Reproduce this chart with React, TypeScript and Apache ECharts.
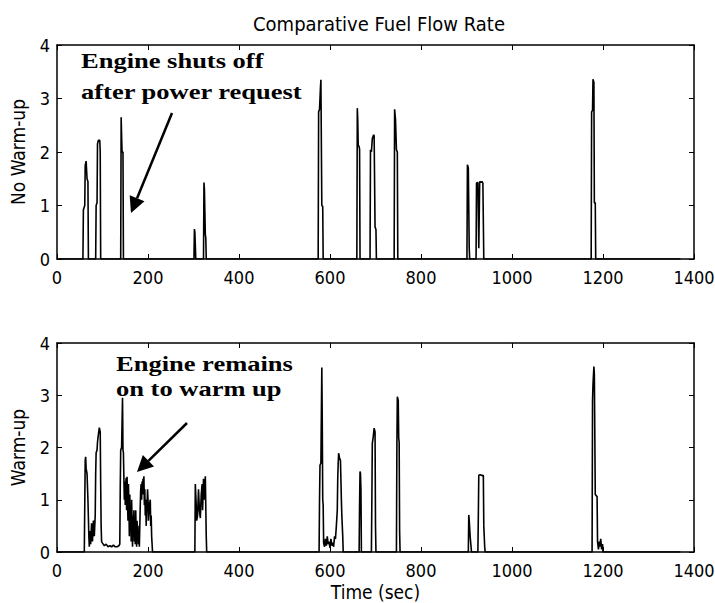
import React, { useEffect, useRef } from "react";
import * as echarts from "echarts";

// ---- data ----
const chartTitle = "Comparative Fuel Flow Rate";
const topAxisName = "No Warm-up";
const bottomAxisName = "Warm-up";
const timeAxisName = "Time (sec)";
const timeMin = 0;
const timeMax = 1400;
const timeStep = 200;
const flowMin = 0;
const flowMax = 4;
const flowStep = 1;

const noWarmupTime = [
  0, 57, 58, 61, 62, 64, 66, 68, 69,
  85, 86, 88, 89, 91, 94, 95, 96,
  140, 141, 142, 143, 145, 146,
  301, 302, 303, 304, 305,
  322, 323, 324, 326, 327, 328,
  574, 575, 577, 579, 580, 582, 584, 585,
  659, 660, 661, 662, 664, 665, 666,
  688, 689, 691, 693, 696, 697, 699, 701, 702,
  741, 742, 744, 746, 748, 749,
  901, 902, 904, 906, 907,
  921, 922, 925, 927, 929, 932, 934, 936, 938,
  1174, 1175, 1177, 1178, 1180, 1181, 1183, 1184,
  1370,
];
const noWarmupFlow = [
  0, 0, 0.92, 1.0, 1.75, 1.83, 1.5, 1.45, 0,
  0, 1.0, 1.05, 2.15, 2.22, 2.22, 2.0, 0,
  0, 2.65, 2.3, 2.0, 2.0, 0,
  0, 0.56, 0.5, 0.25, 0,
  0, 1.43, 1.3, 0.45, 0.4, 0,
  0, 2.75, 2.8, 3.2, 3.35, 1.0, 0.98, 0,
  0, 2.82, 2.6, 2.13, 2.1, 2.05, 0,
  0, 2.04, 2.0, 2.25, 2.32, 2.3, 0.6, 0.55, 0,
  0, 2.8, 2.6, 2.04, 2.0, 0,
  0, 1.76, 1.7, 0.2, 0,
  0, 1.42, 1.43, 0.2, 1.45, 1.43, 1.45, 1.42, 0,
  0, 2.75, 2.78, 3.36, 3.3, 1.05, 1.05, 0,
  0,
];

const warmupTime = [
  0, 60, 61, 62, 63, 64, 66, 68, 70, 71, 73, 74, 76, 78, 80, 82, 84, 85, 86, 88, 89, 91, 93, 95, 96, 97, 98,
  100, 104, 108, 112, 116, 120, 124, 128, 132, 136, 138, 139, 140, 142, 144, 145, 146, 147, 148, 149, 150,
  151, 152, 153, 154, 155, 156, 157, 158, 159, 160, 161, 162, 163, 164, 165, 166, 167, 168, 169, 170, 171,
  172, 173, 174, 175, 176, 177, 178, 179, 180, 181, 183, 184, 185, 186, 187, 188, 189, 190, 191, 192, 193,
  194, 195, 196, 197, 198, 199, 200, 201, 203, 205, 206, 207, 208, 210,
  303, 304, 306, 307, 309, 311, 313, 315, 317, 319, 320, 322, 324, 326, 328, 329,
  576, 577, 578, 580, 582, 583, 584, 585, 586, 588, 590, 592, 594, 596, 598, 600, 602, 604, 606, 608, 610,
  612, 614, 616, 617, 618, 619, 621, 623, 625, 626, 628, 629,
  664, 665, 666, 667, 668, 669,
  691, 692, 693, 695, 697, 699, 700, 701,
  746, 747, 748, 750, 751, 752, 753, 754,
  904, 905, 906, 908, 910, 911,
  925, 926, 927, 930, 933, 935, 937, 938, 940, 941,
  1176, 1177, 1178, 1180, 1181, 1183, 1187, 1188, 1190, 1192, 1193, 1195, 1197, 1199, 1200,
  1370,
];
const warmupFlow = [
  0, 0, 0.9, 1.75, 1.82, 1.6, 1.5, 1.0, 0.3, 0.1, 0.4, 0.15, 0.55, 0.2, 0.6, 0.3, 0.7, 1.5, 1.9, 1.95, 2.1, 2.25, 2.38, 2.3, 1.3, 0.5, 0.2,
  0.17, 0.12, 0.15, 0.1, 0.12, 0.1, 0.13, 0.1, 0.1, 0.12, 0.15, 1.2, 1.95, 2.0, 2.95, 1.95, 1.9, 1.4, 1.0, 1.35, 0.9,
  1.3, 1.42, 0.8, 1.44, 1.0, 0.6, 1.3, 0.9, 0.3, 1.1, 0.5, 0.9, 0.2, 1.0, 0.6, 0.1, 0.7, 0.3, 0.8, 0.2, 0.5,
  0.15, 0.8, 0.4, 0.1, 0.6, 0.2, 0.5, 0.15, 0.3, 0.1, 0.9, 1.2, 1.3, 1.0, 1.35, 1.1, 1.4, 1.3, 1.45, 0.9, 1.2,
  0.7, 1.0, 0.5, 0.8, 0.9, 1.2, 1.0, 0.6, 0.9, 1.0, 0.5, 0.7, 0.3, 0,
  0, 1.3, 0.9, 0.6, 0.7, 1.2, 0.8, 0.65, 1.1, 1.3, 0.8, 1.4, 1.0, 1.45, 0.3, 0,
  0, 1.0, 1.66, 1.7, 3.53, 2.5, 1.0, 0.9, 0.17, 0.1, 0.25, 0.12, 0.3, 0.15, 0.2, 0.08, 0.25, 0.12, 0.18, 0.1, 0.3,
  0.25, 0.5, 0.8, 1.4, 1.7, 1.89, 1.8, 1.75, 1.0, 0.7, 0.3, 0,
  0, 0.9, 1.54, 1.5, 1.2, 0,
  0, 1.0, 2.08, 2.2, 2.37, 2.3, 0.5, 0,
  0, 2.0, 2.97, 2.9, 2.18, 2.1, 0.4, 0,
  0, 0.71, 0.6, 0.3, 0.1, 0,
  0, 0.68, 1.47, 1.48, 1.47, 1.46, 1.47, 0.5, 0.1, 0,
  0, 2.9, 3.2, 3.55, 3.4, 1.1, 1.06, 0.2, 0.05, 0.2, 0.1, 0.25, 0.05, 0.15, 0,
  0,
];

// annotations
const topNote = ["Engine shuts off", "after power request"];
const bottomNote = ["Engine remains", "on to warm up"];

const SANS = "'DejaVu Sans Condensed', 'Liberation Sans Narrow', 'Liberation Sans', Arial, sans-serif";
const SERIF = "'Liberation Serif', 'Times New Roman', serif";

function zip(xs: number[], ys: number[]) {
  return xs.map((x, i) => [x, ys[i]]);
}

function arrow(start: number[], tip: number[], headLen: number, halfW: number) {
  const dx = tip[0] - start[0];
  const dy = tip[1] - start[1];
  const len = Math.sqrt(dx * dx + dy * dy);
  const ux = dx / len;
  const uy = dy / len;
  const bx = tip[0] - ux * headLen;
  const by = tip[1] - uy * headLen;
  const nx = -uy;
  const ny = ux;
  return [
    {
      type: "line",
      shape: { x1: start[0], y1: start[1], x2: bx, y2: by },
      style: { stroke: "#000", lineWidth: 2.5 },
    },
    {
      type: "polygon",
      shape: {
        points: [
          [tip[0], tip[1]],
          [bx + nx * halfW, by + ny * halfW],
          [bx - nx * halfW, by - ny * halfW],
        ],
      },
      style: { fill: "#000" },
    },
  ];
}

function noteText(text: string, x: number, y: number) {
  return {
    type: "text",
    x,
    y,
    scaleY: 0.82,
    style: {
      text,
      fill: "#000",
      font: `bold 26.5px ${SERIF}`,
      textAlign: "left",
      textVerticalAlign: "middle",
    },
  };
}

export default function App() {
  const ref = useRef<HTMLDivElement>(null);
  useEffect(() => {
    if (!ref.current) return;
    const chart = echarts.init(ref.current, undefined, { renderer: "svg" });
    const lab = { color: "#000", fontFamily: SANS, fontSize: 18 };
    const nameStyle = { color: "#000", fontFamily: SANS, fontSize: 19 };
    const tick = { show: true, inside: true, length: 5, lineStyle: { color: "#000", width: 1 } };
    const line = { show: true, onZero: false, lineStyle: { color: "#000", width: 1.5 } };
    const plain = (v: number) => String(v);
    const xBase = (grid: number, pos: string, showLabel: boolean, extra: any = {}) => ({
      type: "value",
      gridIndex: grid,
      position: pos,
      min: timeMin,
      max: timeMax,
      interval: timeStep,
      axisLine: line,
      axisTick: tick,
      splitLine: { show: false },
      axisLabel: { show: showLabel, margin: 9, formatter: plain, ...lab },
      ...extra,
    });
    const yBase = (grid: number, pos: string, showLabel: boolean, extra: any = {}) => ({
      type: "value",
      gridIndex: grid,
      position: pos,
      min: flowMin,
      max: flowMax,
      interval: flowStep,
      axisLine: line,
      axisTick: tick,
      splitLine: { show: false },
      axisLabel: { show: showLabel, margin: 7, formatter: plain, ...lab },
      ...extra,
    });
    const graphics: any[] = [
      noteText(topNote[0], 81, 60),
      noteText(topNote[1], 81, 91),
      noteText(bottomNote[0], 116, 363),
      noteText(bottomNote[1], 116, 388),
      ...arrow([172, 113], [131, 213], 16, 8),
      ...arrow([187, 423], [137, 472], 16, 8),
    ];
    chart.setOption({
      animation: false,
      backgroundColor: "#fff",
      title: {
        text: chartTitle,
        left: 374,
        top: 9,
        textAlign: "center",
        textStyle: { color: "#000", fontFamily: SANS, fontSize: 20, fontWeight: "normal" },
      },
      grid: [
        { left: 57, top: 45, width: 637, height: 214, outerBoundsMode: "none", containLabel: false },
        { left: 57, top: 343, width: 637, height: 209, outerBoundsMode: "none", containLabel: false },
      ],
      xAxis: [
        xBase(0, "bottom", true),
        xBase(0, "top", false),
        xBase(1, "bottom", true, {
          name: timeAxisName,
          nameLocation: "middle",
          nameGap: 30,
          nameTextStyle: nameStyle,
        }),
        xBase(1, "top", false),
      ],
      yAxis: [
        yBase(0, "left", true, {
          name: topAxisName,
          nameLocation: "middle",
          nameGap: 30,
          nameTextStyle: nameStyle,
        }),
        yBase(0, "right", false),
        yBase(1, "left", true, {
          name: bottomAxisName,
          nameLocation: "middle",
          nameGap: 30,
          nameTextStyle: nameStyle,
        }),
        yBase(1, "right", false),
      ],
      series: [
        {
          type: "line",
          xAxisIndex: 0,
          yAxisIndex: 0,
          data: zip(noWarmupTime, noWarmupFlow),
          showSymbol: false,
          lineStyle: { color: "#000", width: 1.6 },
        },
        {
          type: "line",
          xAxisIndex: 2,
          yAxisIndex: 2,
          data: zip(warmupTime, warmupFlow),
          showSymbol: false,
          lineStyle: { color: "#000", width: 1.6 },
        },
      ],
      graphic: graphics,
    });
    return () => chart.dispose();
  }, []);
  return (
    <div
      ref={ref}
      style={{ position: "fixed", left: 0, top: 0, width: 715, height: 603, background: "#fff" }}
    />
  );
}
